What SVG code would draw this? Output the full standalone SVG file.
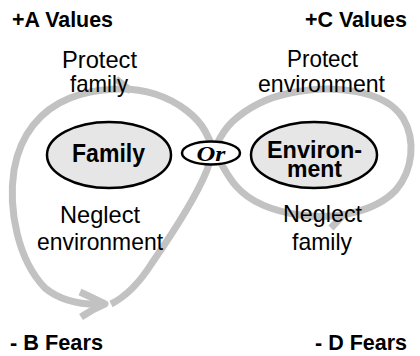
<svg xmlns="http://www.w3.org/2000/svg" width="420" height="356" viewBox="0 0 420 356">
<style>
.loop{fill:none;stroke:#c2c2c2;stroke-width:7;stroke-linecap:butt;stroke-linejoin:round}
.node{fill:#e6e6e6;stroke:#000;stroke-width:2.5}
.or{fill:#fff;stroke:#000;stroke-width:2.5}
.lbl{font-family:"Liberation Sans",Arial,sans-serif;font-size:24px;fill:#000;text-anchor:middle}
.hd{font-family:"Liberation Sans",Arial,sans-serif;font-size:22px;font-weight:bold;fill:#000}
.nt{font-family:"Liberation Sans",Arial,sans-serif;font-weight:bold;fill:#000;text-anchor:middle}
</style>
<rect width="420" height="356" fill="#fff"/>
<g id="connectors">
<path class="loop" d="M111,304 C125,297 140,282 152,263 C170,237 195,200 207,170 C212,155 218,136 232,122 C245,110 265,98 290,93 C335,84 385,90 403,118 C416,140 413,170 396,190 C375,212 335,220 300,215 C272,211 250,202 236,186 C222,170 214,148 205,131 C198,118 180,102 155,94 C130,86 95,88 70,98 C40,110 20,135 14,170 C8,210 18,260 45,288 C62,302 85,305 104,304"/>
<path class="loop" stroke-width="6" d="M80,292 Q95,299 105,304 Q93,309 81,317"/>
<path class="loop" stroke-width="6" d="M116,79 L131,91"/>
<path class="loop" stroke-width="6" d="M344,214 L331,228"/>
</g>
<g id="family">
<ellipse class="node" cx="109" cy="155" rx="62" ry="33"/>
<text class="nt" x="108.5" y="162" font-size="26" textLength="73" lengthAdjust="spacingAndGlyphs">Family</text>
</g>
<g id="or">
<ellipse class="or" cx="211" cy="153" rx="29" ry="11.5"/>
<text x="211" y="161" font-family="'Liberation Serif','Times New Roman',serif" font-size="22" font-weight="bold" font-style="italic" text-anchor="middle" textLength="29" lengthAdjust="spacingAndGlyphs">Or</text>
</g>
<g id="environment">
<ellipse class="node" cx="314" cy="155" rx="63" ry="33"/>
<text class="nt" x="314.5" y="158" font-size="23" textLength="95" lengthAdjust="spacingAndGlyphs">Environ-</text>
<text class="nt" x="314.5" y="177" font-size="23" textLength="55" lengthAdjust="spacingAndGlyphs">ment</text>
</g>
<g id="labels">
<text class="hd" x="12" y="27" textLength="101" lengthAdjust="spacingAndGlyphs">+A Values</text>
<text class="hd" x="305" y="27" textLength="102" lengthAdjust="spacingAndGlyphs">+C Values</text>
<text class="hd" x="10" y="350" textLength="93" lengthAdjust="spacingAndGlyphs">- B Fears</text>
<text class="hd" x="315" y="350" textLength="92" lengthAdjust="spacingAndGlyphs">- D Fears</text>
<text class="lbl" x="99.5" y="68" textLength="75" lengthAdjust="spacingAndGlyphs">Protect</text>
<text class="lbl" x="99" y="92" textLength="58" lengthAdjust="spacingAndGlyphs">family</text>
<text class="lbl" x="322.5" y="67" textLength="71" lengthAdjust="spacingAndGlyphs">Protect</text>
<text class="lbl" x="321.5" y="92" textLength="127" lengthAdjust="spacingAndGlyphs">environment</text>
<text class="lbl" x="100" y="223" textLength="80" lengthAdjust="spacingAndGlyphs">Neglect</text>
<text class="lbl" x="100" y="250" textLength="126" lengthAdjust="spacingAndGlyphs">environment</text>
<text class="lbl" x="322.5" y="222" textLength="79" lengthAdjust="spacingAndGlyphs">Neglect</text>
<text class="lbl" x="322" y="250" textLength="60" lengthAdjust="spacingAndGlyphs">family</text>
</g>
</svg>
